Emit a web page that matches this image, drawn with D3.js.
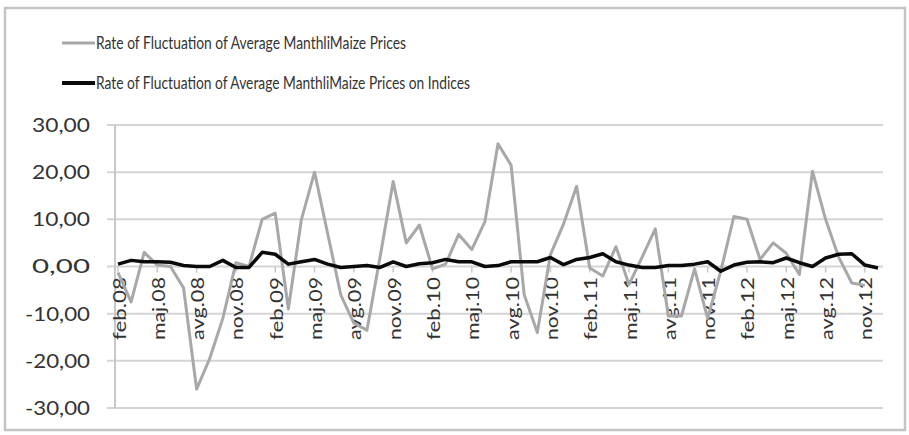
<!DOCTYPE html>
<html>
<head>
<meta charset="utf-8">
<script src="https://cdnjs.cloudflare.com/ajax/libs/d3/7.8.5/d3.min.js"></script>
<style>
html,body{margin:0;padding:0;background:#fff;}
svg{display:block;}
text{font-family:Lato,"Open Sans",sans-serif;fill:#333;}
</style>
</head>
<body>
<svg id="chart" width="909" height="435"></svg>
<script>
const categories = [];
(function(){
  // monthly categories feb.08 .. dec.12
  const mNames = ["jan","feb","mar","apr","maj","jun","jul","avg","sep","okt","nov","dec"];
  for (let y = 8; y <= 12; y++) {
    for (let m = 0; m < 12; m++) {
      if (y === 8 && m === 0) continue;
      categories.push(mNames[m] + "." + String(y).padStart(2, "0"));
    }
  }
})();
const tickLabels = ["feb.08","maj.08","avg.08","nov.08","feb.09","maj.09","avg.09","nov.09",
  "feb.10","maj.10","avg.10","nov.10","feb.11","maj.11","avg.11","nov.11",
  "feb.12","maj.12","avg.12","nov.12"];
const yTicks = [30,20,10,0,-10,-20,-30];

const seriesNames = ["Rate of Fluctuation of Average ManthliMaize Prices",
  "Rate of Fluctuation of Average ManthliMaize Prices on Indices"];

const priceRates = [
  -1.3,-7.5,3.0,0.3,0.0,-4.5,-26.0,-19.5,-11.0,0.8,0.0,
  10.0,11.3,-9.0,10.0,20.0,7.0,-6.0,-12.0,-13.5,2.0,18.0,5.0,
  8.8,-0.5,0.5,6.8,3.6,9.5,26.0,21.5,-6.0,-14.0,2.5,9.0,
  17.0,-0.3,-2.0,4.2,-3.8,2.0,8.0,-10.5,-10.5,-0.5,-11.0,-1.0,
  10.6,10.0,1.5,5.0,2.8,-1.7,20.2,10.0,2.0,-3.5,-4.0,null
];
const indexRates = [
  0.5,1.3,1.0,1.0,0.9,0.2,0.0,0.0,1.3,-0.2,-0.2,
  3.0,2.6,0.5,1.0,1.5,0.5,-0.2,0.0,0.2,-0.2,1.0,0.0,
  0.6,0.8,1.5,1.0,1.0,0.0,0.2,1.0,1.0,1.0,1.9,0.4,
  1.5,1.9,2.7,1.0,0.3,-0.2,-0.2,0.2,0.2,0.5,1.0,-1.0,
  0.3,0.9,1.0,0.8,1.8,0.8,0.0,1.8,2.6,2.7,0.3,-0.3
];

const svg = d3.select("#chart");

// outer frame
svg.append("rect").attr("x",5).attr("y",8).attr("width",900).attr("height",422)
  .attr("fill","#fff").attr("stroke","#c4c4c4").attr("stroke-width",2.5);

const x = d3.scalePoint().domain(categories).range([118, 878]);
const y = d3.scaleLinear().domain([-30, 30]).range([408, 125]);

// gridlines
svg.append("g").selectAll("line").data(yTicks).join("line")
  .attr("x1",107).attr("x2",883)
  .attr("y1",d=>y(d)).attr("y2",d=>y(d))
  .attr("stroke","#d4d4d4").attr("stroke-width",2);

// y axis line
svg.append("line").attr("x1",115).attr("x2",115).attr("y1",y(30)).attr("y2",y(-30))
  .attr("stroke","#c8c8c8").attr("stroke-width",2);

// y labels
svg.append("g").selectAll("text").data(yTicks).join("text")
  .attr("x",90).attr("y",d=>y(d)).attr("dy","0.36em")
  .attr("text-anchor","end").attr("font-size",19)
  .attr("textLength",d=> d < 0 ? 65 : 58).attr("lengthAdjust","spacingAndGlyphs")
  .text(d=>d3.format(".2f")(d).replace(".", ",").replace("−","-"));

// x ticks
svg.append("g").selectAll("line").data(tickLabels).join("line")
  .attr("x1",d=>x(d)).attr("x2",d=>x(d)).attr("y1",y(0)).attr("y2",y(0)+6)
  .attr("stroke","#c8c8c8").attr("stroke-width",1.5);

// x labels rotated
svg.append("g").selectAll("text").data(tickLabels).join("text")
  .attr("transform",d=>`translate(${x(d)+1},277) rotate(-90)`)
  .attr("text-anchor","end").attr("dominant-baseline","central")
  .attr("font-size",17)
  .attr("textLength",63).attr("lengthAdjust","spacingAndGlyphs")
  .text(d=>d);

const line = d3.line().defined(d=>d[1]!=null)
  .x(d=>x(d[0])).y(d=>y(d[1]));

svg.append("path").datum(categories.map((c,i)=>[c, priceRates[i]]))
  .attr("d",line).attr("fill","none").attr("stroke","#a8a8a8").attr("stroke-width",3)
  .attr("stroke-linejoin","round");

svg.append("path").datum(categories.map((c,i)=>[c, indexRates[i]]))
  .attr("d",line).attr("fill","none").attr("stroke","#0a0a0a").attr("stroke-width",3.5)
  .attr("stroke-linejoin","round");

// legend
const legend = [
  {name: seriesNames[0], color:"#a8a8a8", w:3, y:43, len:310},
  {name: seriesNames[1], color:"#0a0a0a", w:4, y:83, len:374}
];
const lg = svg.append("g");
lg.selectAll("line").data(legend).join("line")
  .attr("x1",62).attr("x2",95).attr("y1",d=>d.y).attr("y2",d=>d.y)
  .attr("stroke",d=>d.color).attr("stroke-width",d=>d.w);
lg.selectAll("text").data(legend).join("text")
  .attr("x",96).attr("y",d=>d.y).attr("dy","0.35em").attr("font-size",18)
  .attr("textLength",d=>d.len).attr("lengthAdjust","spacingAndGlyphs")
  .text(d=>d.name);
</script>
</body>
</html>
